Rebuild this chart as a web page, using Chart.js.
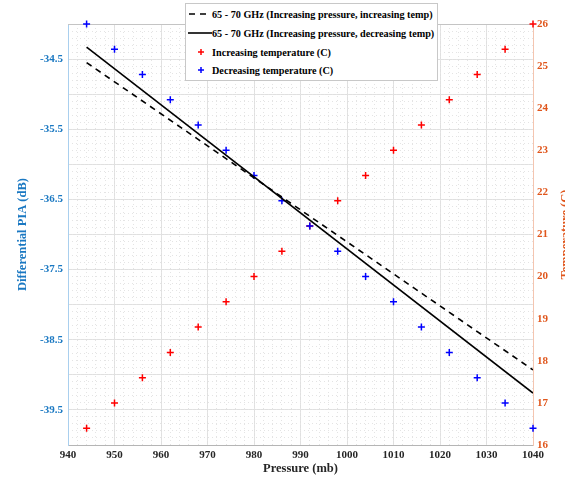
<!DOCTYPE html>
<html>
<head>
<meta charset="utf-8">
<script src="https://cdn.jsdelivr.net/npm/chart.js@4/dist/chart.umd.min.js"></script>
<style>
  html, body { margin:0; padding:0; background:#fff; overflow:hidden; }
  #wrap { position:relative; width:575px; height:477px; }
  #legend {
    position:absolute; left:185px; top:3px; width:251px; height:76px;
    border:1px solid #c8c8c8; background:#fff;
    font-family: 'Liberation Serif', 'Times New Roman', serif;
    font-weight: bold; font-size: 10.2px; color:#000;
  }
  .row { position:absolute; left:0; height:14px; display:flex; align-items:center; }
  .row svg { margin-left:2px; }
  .row span { position:absolute; left:26px; white-space:nowrap; }
</style>
</head>
<body>
<div id="wrap">
  <canvas id="chart" width="575" height="477"></canvas>
  <div id="legend"></div>
</div>
<script>
// ============================================================
// DATOS
// ============================================================
const pressure = [944, 950, 956, 962, 968, 974, 980, 986, 992, 998, 1004, 1010, 1016, 1022, 1028, 1034, 1040];
const tempIncreasing = [16.4, 17.0, 17.6, 18.2, 18.8, 19.4, 20.0, 20.6, 21.2, 21.8, 22.4, 23.0, 23.6, 24.2, 24.8, 25.4, 26.0];
const tempDecreasing = [26.0, 25.4, 24.8, 24.2, 23.6, 23.0, 22.4, 21.8, 21.2, 20.6, 20.0, 19.4, 18.8, 18.2, 17.6, 17.0, 16.4];

// rectas de ajuste (extremos)
const fitPressure = [944, 1040];
const piaIncTemp = [-34.55, -38.93];
const piaDecTemp = [-34.33, -39.26];

const seriesLabels = [
    '65 - 70 GHz (Increasing pressure, increasing temp)',
    '65 - 70 GHz (Increasing pressure, decreasing temp)',
    'Increasing temperature (C)',
    'Decreasing temperature (C)'
];

const pressureTicks = [940, 950, 960, 970, 980, 990, 1000, 1010, 1020, 1030, 1040];
const piaTickLabels = [-34.5, -35.5, -36.5, -37.5, -38.5, -39.5];
const tempTicks = [16, 17, 18, 19, 20, 21, 22, 23, 24, 25, 26];

const BLUE_AX = '#1a78c2';
const ORANGE_AX = '#e0561c';
const FONT = "'Liberation Serif', serif";

Chart.defaults.font.family = FONT;
Chart.defaults.font.weight = 'bold';

const toXY = (xs, ys) => xs.map((x, i) => ({ x: x, y: ys[i] }));

// ============================================================
// LEYENDA (HTML)
// ============================================================
function renderLegend() {
    const samples = [
        '<svg width="22" height="10"><line x1="1" y1="5" x2="21" y2="5" stroke="#000" stroke-width="1.6" stroke-dasharray="6,5"/></svg>',
        '<svg width="24" height="10"><line x1="0" y1="5" x2="24" y2="5" stroke="#000" stroke-width="1.6"/></svg>',
        '<svg width="22" height="10"><g stroke="#ff0000" stroke-width="1.5"><line x1="13" y1="2" x2="13" y2="8"/><line x1="10" y1="5" x2="16" y2="5"/></g></svg>',
        '<svg width="22" height="10"><g stroke="#0000ff" stroke-width="1.5"><line x1="13" y1="2" x2="13" y2="8"/><line x1="10" y1="5" x2="16" y2="5"/></g></svg>'
    ];
    const tops = [3, 22, 41, 59];
    document.getElementById('legend').innerHTML = seriesLabels.map((l, i) => `
        <div class="row" style="top:${tops[i]}px; width:250px;">
            ${samples[i]}<span>${l}</span>
        </div>`).join('');
}

// ============================================================
// TITULO DERECHO + BORDE SUPERIOR
// ============================================================
const extras = {
    id: 'extras',
    beforeDatasetsDraw(chart) {
        const ctx = chart.ctx;
        const a = chart.chartArea;
        ctx.save();
        ctx.strokeStyle = '#c4c4c4';
        ctx.lineWidth = 1;
        ctx.beginPath();
        ctx.moveTo(a.left, a.top + 0.5);
        ctx.lineTo(a.right, a.top + 0.5);
        ctx.stroke();
        ctx.restore();
    },
    afterDraw(chart) {
        const ctx = chart.ctx;
        const a = chart.chartArea;
        ctx.save();
        ctx.translate(566, (a.top + a.bottom) / 2);
        ctx.rotate(-Math.PI / 2);
        ctx.font = 'bold 12.5px ' + FONT;
        ctx.fillStyle = ORANGE_AX;
        ctx.textAlign = 'center';
        ctx.textBaseline = 'middle';
        ctx.fillText('Temperature (C)', 0, 0);
        ctx.restore();
    }
};

const fixSize = (w, h) => (scale) => {
    if (w !== null) scale.width = w;
    if (h !== null) scale.height = h;
};

renderLegend();

new Chart(document.getElementById('chart').getContext('2d'), {
    type: 'scatter',
    data: {
        datasets: [
            {
                label: seriesLabels[0],
                data: toXY(fitPressure, piaIncTemp),
                yAxisID: 'y',
                showLine: true,
                borderColor: '#000',
                borderWidth: 1.6,
                borderDash: [6, 5],
                pointRadius: 0,
                order: 0
            },
            {
                label: seriesLabels[1],
                data: toXY(fitPressure, piaDecTemp),
                yAxisID: 'y',
                showLine: true,
                borderColor: '#000',
                borderWidth: 1.6,
                pointRadius: 0,
                order: 0
            },
            {
                label: seriesLabels[2],
                data: toXY(pressure, tempIncreasing),
                yAxisID: 'yT',
                pointStyle: 'cross',
                pointRadius: 3.5,
                pointBorderWidth: 1.5,
                borderColor: '#ff0000',
                backgroundColor: '#ff0000',
                clip: false,
                order: 2
            },
            {
                label: seriesLabels[3],
                data: toXY(pressure, tempDecreasing),
                yAxisID: 'yT',
                pointStyle: 'cross',
                pointRadius: 3.5,
                pointBorderWidth: 1.5,
                borderColor: '#0000ff',
                backgroundColor: '#0000ff',
                clip: false,
                order: 1
            }
        ]
    },
    options: {
        responsive: false,
        animation: false,
        devicePixelRatio: 1,
        layout: { padding: { top: 24, left: 0, right: 0, bottom: 0 } },
        plugins: {
            legend: { display: false },
            tooltip: { enabled: false }
        },
        scales: {
            x: {
                type: 'linear',
                position: 'bottom',
                min: 940,
                max: 1040,
                afterBuildTicks: (s) => { s.ticks = pressureTicks.map(v => ({ value: v })); },
                afterFit: fixSize(null, 32),
                ticks: {
                    color: '#262626',
                    font: { size: 11, weight: 'bold' },
                    padding: 4,
                    autoSkip: false,
                    maxRotation: 0,
                    callback: (v) => '' + v
                },
                grid: { color: '#e0e0e0', drawTicks: false },
                border: { color: '#b5b5b5' },
                title: {
                    display: true,
                    text: 'Pressure (mb)',
                    color: '#262626',
                    font: { size: 12.5, weight: 'bold' },
                    padding: { top: 0, bottom: 1 }
                }
            },
            xMinor: {
                type: 'linear',
                position: 'top',
                min: 940,
                max: 1040,
                afterFit: fixSize(null, 0),
                ticks: { display: false, stepSize: 2 },
                grid: { color: '#e4e4e4', drawTicks: false },
                border: { display: false, dash: [1, 3] }
            },
            y: {
                type: 'linear',
                position: 'left',
                min: -40,
                max: -34,
                afterFit: fixSize(68, null),
                ticks: {
                    stepSize: 0.5,
                    color: BLUE_AX,
                    font: { size: 11, weight: 'bold' },
                    padding: 5,
                    autoSkip: false,
                    callback: (v) => piaTickLabels.some(t => Math.abs(t - v) < 1e-6) ? v.toFixed(1) : ''
                },
                grid: { color: '#e0e0e0', drawTicks: false },
                border: { color: '#a9cfee' },
                title: {
                    display: true,
                    text: 'Differential PIA (dB)',
                    color: BLUE_AX,
                    font: { size: 12.5, weight: 'bold' },
                    padding: { top: 15, bottom: 0 }
                }
            },
            yMinor: {
                type: 'linear',
                position: 'left',
                min: -40,
                max: -34,
                afterFit: fixSize(0, null),
                ticks: { display: false, stepSize: 0.1 },
                grid: { color: '#e4e4e4', drawTicks: false },
                border: { display: false, dash: [1, 3] }
            },
            yT: {
                type: 'linear',
                position: 'right',
                min: 16,
                max: 26,
                afterBuildTicks: (s) => { s.ticks = tempTicks.map(v => ({ value: v })); },
                afterFit: fixSize(42, null),
                ticks: {
                    color: ORANGE_AX,
                    font: { size: 11, weight: 'bold' },
                    padding: 4,
                    autoSkip: false
                },
                grid: { drawOnChartArea: false, drawTicks: false },
                border: { color: '#f4c5b0' }
            }
        }
    },
    plugins: [extras]
});
</script>
</body>
</html>
